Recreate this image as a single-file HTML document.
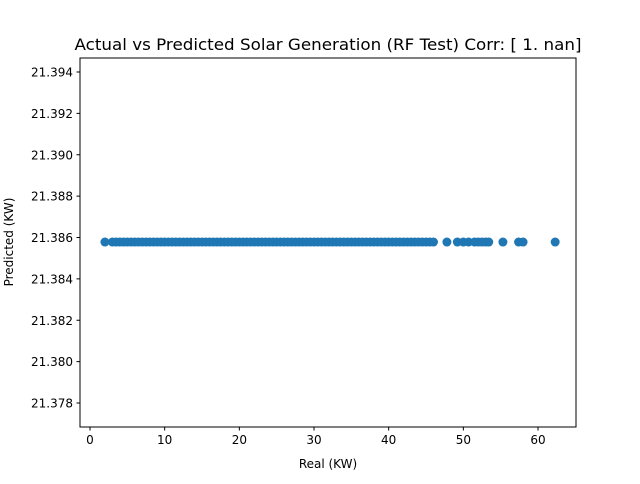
<!DOCTYPE html>
<html><head><meta charset="utf-8"><style>
body{margin:0;background:#fff;font-family:"DejaVu Sans","Liberation Sans",sans-serif;}
</style></head><body>
<svg width="640" height="480" xmlns="http://www.w3.org/2000/svg">
<rect width="640" height="480" fill="#fff"/>
<g id="pts"></g>
<rect x="80" y="58" width="496" height="369" fill="none" stroke="#000" stroke-width="1"/>
<g id="axes" font-size="12" fill="#000"></g>
<text x="328" y="50" text-anchor="middle" font-size="16" textLength="507" lengthAdjust="spacingAndGlyphs">Actual vs Predicted Solar Generation (RF Test) Corr: [ 1. nan]</text>
<text x="328" y="468" text-anchor="middle" font-size="12">Real (KW)</text>
<text transform="translate(13,242) rotate(-90)" text-anchor="middle" font-size="12">Predicted (KW)</text>
</svg>
<script>
const realVals=[2,3,3.5,4,4.5,5,5.5,6,6.5,7,7.5,8,8.5,9,9.5,10,10.5,11,11.5,12,12.5,13,13.5,14,14.5,15,15.5,16,16.5,17,17.5,18,18.5,19,19.5,20,20.5,21,21.5,22,22.5,23,23.5,24,24.5,25,25.5,26,26.5,27,27.5,28,28.5,29,29.5,30,30.5,31,31.5,32,32.5,33,33.5,34,34.5,35,35.5,36,36.5,37,37.5,38,38.5,39,39.5,40,40.5,41,41.5,42,42.5,43,43.5,44,44.5,45,45.5,46,47.8,49.2,50,50.7,51.5,52,52.5,53,53.4,55.3,57.4,58,62.3];
const predVal=21.38578;
const xTicks=[0,10,20,30,40,50,60];
const yTicks=[21.378,21.380,21.382,21.384,21.386,21.388,21.390,21.392,21.394];
const xs=v=>90+v*7.4667;
const ys=v=>72+(21.394-v)*(331/0.016);
const NS="http://www.w3.org/2000/svg";
const pts=document.getElementById('pts');
realVals.forEach(v=>{const c=document.createElementNS(NS,'circle');
c.setAttribute('cx',xs(v));c.setAttribute('cy',ys(predVal));c.setAttribute('r',4.5);c.setAttribute('fill','#1f77b4');


pts.appendChild(c);});
const ax=document.getElementById('axes');
xTicks.forEach(t=>{const x=xs(t);
const l=document.createElementNS(NS,'line');l.setAttribute('x1',x);l.setAttribute('x2',x);l.setAttribute('y1',427);l.setAttribute('y2',430.5);l.setAttribute('stroke','#000');


ax.appendChild(l);
const tx=document.createElementNS(NS,'text');tx.setAttribute('x',x);tx.setAttribute('y',444);tx.setAttribute('text-anchor','middle');tx.textContent=t;


ax.appendChild(tx);});
yTicks.forEach(t=>{const y=ys(t);
const l=document.createElementNS(NS,'line');l.setAttribute('x1',76.5);l.setAttribute('x2',80);l.setAttribute('y1',y);l.setAttribute('y2',y);l.setAttribute('stroke','#000');


ax.appendChild(l);
const tx=document.createElementNS(NS,'text');tx.setAttribute('x',73);tx.setAttribute('y',y+4.5);tx.setAttribute('text-anchor','end');tx.textContent=t.toFixed(3);


ax.appendChild(tx);});
</script>
</body></html>
